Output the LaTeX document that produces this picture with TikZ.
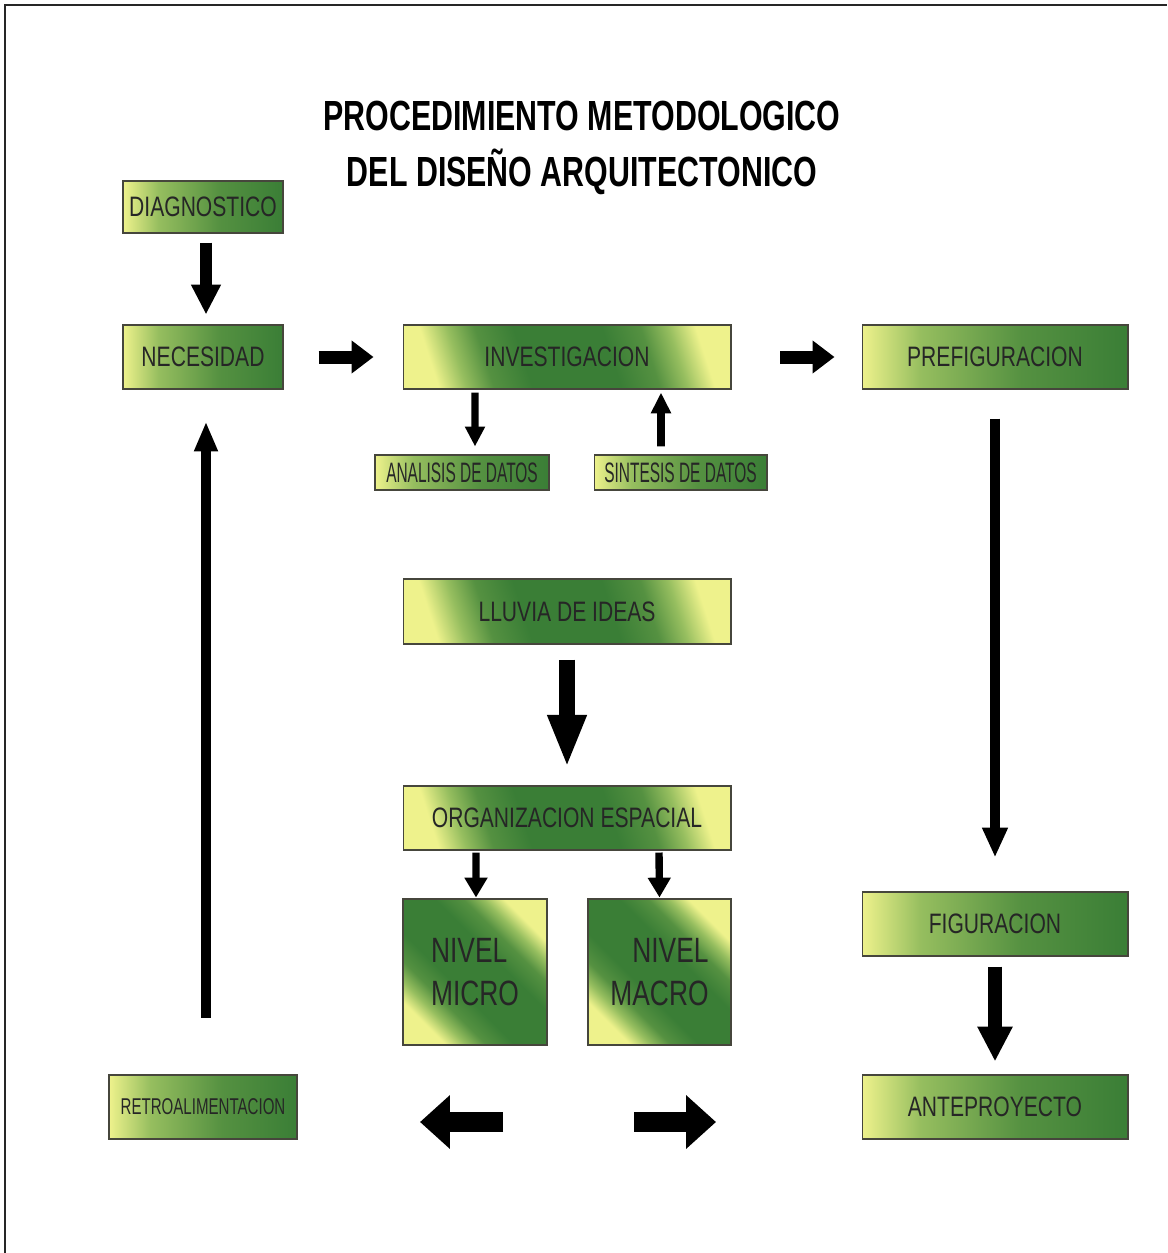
\documentclass[tikz,border=0pt]{standalone}
\usepackage{fontspec}
\usepackage{tikz}
\usetikzlibrary{positioning,arrows.meta}
\setmainfont{Liberation Sans}
\newfontfamily\titulofont[FakeStretch=0.72]{Liberation Sans}
\newfontfamily\cajafont[FakeStretch=0.75]{Liberation Sans}
\newfontfamily\datosfont[FakeStretch=0.55]{Liberation Sans}
\newfontfamily\retrofont[FakeStretch=0.66]{Liberation Sans}
\definecolor{amarillo}{RGB}{238,242,140}
\definecolor{verdeclaro}{RGB}{150,190,95}
\definecolor{verdemedio}{RGB}{85,145,65}
\definecolor{verde}{RGB}{58,126,54}
\definecolor{borde}{RGB}{70,70,60}
\pgfdeclarehorizontalshading{cajaverde}{100bp}{color(0bp)=(amarillo); color(25bp)=(amarillo); color(36bp)=(verdeclaro); color(55bp)=(verdemedio); color(75bp)=(verde); color(100bp)=(verde)}
\pgfdeclareverticalshading{centroverde}{100bp}{color(0bp)=(amarillo); color(25bp)=(amarillo); color(30bp)=(verdeclaro); color(35bp)=(verdemedio); color(42bp)=(verde); color(58bp)=(verde); color(65bp)=(verdemedio); color(70bp)=(verdeclaro); color(75bp)=(amarillo); color(100bp)=(amarillo)}

\begin{document}
\begin{tikzpicture}[x=0.02cm,y=-0.02cm]
 \tikzset{caja/.style={draw=borde,line width=0.6pt,shading=cajaverde,inner sep=0pt,text=black!85,font=\cajafont\fontsize{16}{19}\selectfont},
  centro/.style={draw=borde,line width=0.6pt,shading=centroverde,shading angle=#1,inner sep=0pt,text=black!85,font=\cajafont\fontsize{16}{19}\selectfont},
  centro/.default=-72,
  flecha/.style n args={3}{line width=#1,-{Triangle[width=#2,length=#3]},black}}
 \useasboundingbox (0,0) rectangle (1167,1253);
 \draw[line width=1.2pt,black!85] (5,1253) -- (5,5) -- (1167,5);

 \node[font=\titulofont\bfseries\fontsize{24}{32}\selectfont,align=center] (titulo) at (582,148) {PROCEDIMIENTO METODOLOGICO\\ DEL DISEÑO ARQUITECTONICO};

 \node[caja,minimum width=3.2cm,minimum height=1.04cm] (diag) at (203,207) {DIAGNOSTICO};
 \node[caja,minimum width=3.2cm,minimum height=1.28cm] (nec) at (203,357) {NECESIDAD};
 \node[centro,minimum width=6.56cm,minimum height=1.28cm] (inv) at (567,357) {INVESTIGACION};
 \node[caja,minimum width=5.32cm,minimum height=1.28cm] (pref) at (995,357) {PREFIGURACION};
 \node[caja,minimum width=3.48cm,minimum height=0.7cm,font=\datosfont\fontsize{16}{19}\selectfont] (anal) at (462,472.5) {ANALISIS DE DATOS};
 \node[caja,minimum width=3.46cm,minimum height=0.7cm,font=\datosfont\fontsize{16}{19}\selectfont] (sint) at (680.5,472.5) {SINTESIS DE DATOS};
 \node[centro,minimum width=6.56cm,minimum height=1.3cm] (lluv) at (567,611.5) {LLUVIA DE IDEAS};
 \node[centro,minimum width=6.56cm,minimum height=1.28cm] (org) at (567,818) {ORGANIZACION ESPACIAL};
 \node[centro=-45,minimum width=2.88cm,minimum height=2.92cm,align=left,font=\cajafont\fontsize{20}{24}\selectfont] (micro) at (475,972) {NIVEL\\MICRO};
 \node[centro=-45,minimum width=2.86cm,minimum height=2.92cm,align=right,font=\cajafont\fontsize{20}{24}\selectfont] (macro) at (659.5,972) {NIVEL\\MACRO};
 \node[caja,minimum width=5.32cm,minimum height=1.28cm] (fig) at (995,924) {FIGURACION};
 \node[caja,minimum width=5.32cm,minimum height=1.28cm] (ante) at (995,1107) {ANTEPROYECTO};
 \node[caja,minimum width=3.76cm,minimum height=1.28cm,font=\retrofont\fontsize{13}{16}\selectfont] (retro) at (203,1107) {RETROALIMENTACION};

 \coordinate (izqa) at (503,1122);
 \coordinate (izqb) at (420,1122);
 \coordinate (dera) at (634,1122);
 \coordinate (derb) at (716,1122);

 \draw[flecha={6.8pt}{15.9pt}{17pt},shorten <=0.18cm,shorten >=0.2cm] ([xshift=0.06cm]diag.south) to ([xshift=0.06cm]nec.north);
 \draw[flecha={7.4pt}{18pt}{12.5pt},shorten <=0.7cm,shorten >=0.58cm] (nec) to (inv);
 \draw[flecha={7.4pt}{18pt}{12.5pt},shorten <=0.98cm,shorten >=0.54cm] (inv) to (pref);
 \draw[flecha={4.2pt}{10.8pt}{11.3pt},shorten <=0.06cm,shorten >=0.16cm] ([xshift=-1.84cm]inv.south) to ([xshift=0.26cm]anal.north);
 \draw[flecha={4.5pt}{10.8pt}{11.8pt},shorten <=0.16cm,shorten >=0.06cm] ([xshift=-0.39cm]sint.north) to ([xshift=1.88cm]inv.south);
 \draw[flecha={6.2pt}{13.6pt}{17pt},shorten <=0.58cm,shorten >=0.68cm] (pref) to (fig);
 \draw[flecha={9.6pt}{20.4pt}{30pt},shorten <=0.3cm,shorten >=0.36cm] (lluv) to (org);
 \draw[flecha={4.2pt}{12.5pt}{11.3pt},shorten <=0.04cm,shorten >=0.02cm] ([xshift=-1.82cm]org.south) to ([xshift=0.02cm]micro.north);
 \draw[flecha={4.2pt}{12.5pt}{11.3pt},shorten <=0.04cm,shorten >=0.02cm] ([xshift=1.84cm]org.south) to (macro.north);
 \draw[flecha={8pt}{18.7pt}{19.8pt},shorten <=0.2cm,shorten >=0.26cm] (fig) to (ante);
 \draw[flecha={5.7pt}{12.5pt}{17pt},shorten <=1.14cm,shorten >=0.64cm] ([xshift=0.06cm]retro.north) to ([xshift=0.06cm]nec.south);
 \draw[flecha={11.9pt}{29.5pt}{17pt}] (izqa) to (izqb);
 \draw[flecha={11.9pt}{29.5pt}{17pt}] (dera) to (derb);
\end{tikzpicture}
\end{document}
